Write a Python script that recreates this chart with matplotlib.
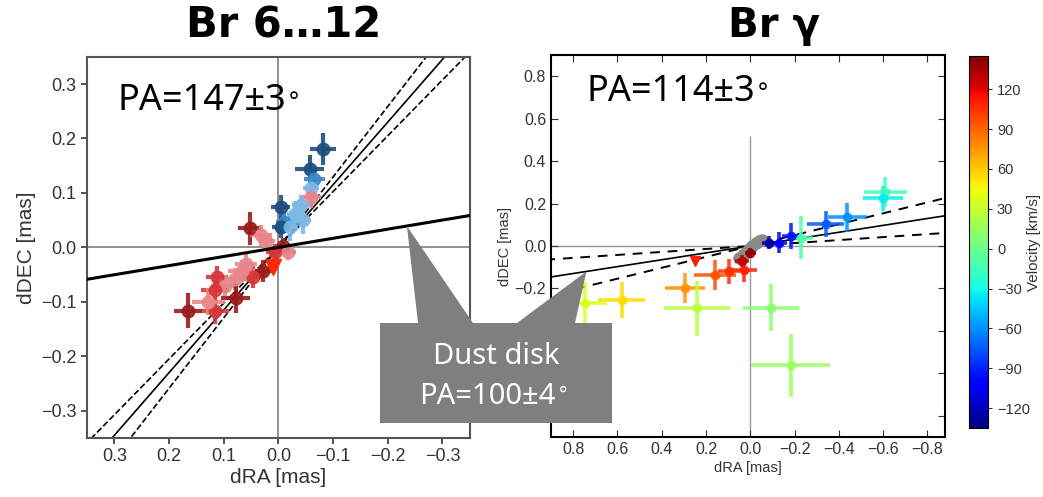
import numpy as np
import matplotlib
matplotlib.use("Agg")
import matplotlib.pyplot as plt
from matplotlib.patches import Polygon
from matplotlib.cm import ScalarMappable
from matplotlib.colors import Normalize

plt.rcParams["font.family"] = ["Liberation Sans", "DejaVu Sans"]

# ---- Br 6...12 (left): offsets in mas, colour class per point ----
left_dra = [-0.081, -0.057, -0.066, -0.060, -0.060, -0.042, -0.030, -0.004, -0.011, -0.004,
            -0.021, 0.052, 0.031, 0.022, -0.009, 0.007, -0.018, 0.028, 0.046, 0.067,
            0.113, 0.079, 0.098, 0.116, 0.078, 0.116, 0.165, 0.128, 0.060, -0.045]
left_ddec = [0.181, 0.144, 0.126, 0.110, 0.092, 0.077, 0.061, 0.074, 0.046, 0.037,
             0.037, 0.035, 0.022, 0.012, 0.003, -0.009, -0.009, -0.043, -0.055, -0.043,
             -0.055, -0.058, -0.070, -0.079, -0.093, -0.116, -0.116, -0.100, -0.030, 0.050]
left_xerr = [0.024, 0.027, 0.020, 0.015, 0.018, 0.018, 0.015, 0.018, 0.015, 0.015,
             0.015, 0.021, 0.020, 0.015, 0.015, 0.015, 0.015, 0.020, 0.020, 0.025,
             0.020, 0.025, 0.025, 0.025, 0.027, 0.025, 0.026, 0.030, 0.020, 0.015]
left_yerr = [0.030, 0.025, 0.020, 0.030, 0.020, 0.020, 0.025, 0.022, 0.020, 0.020,
             0.025, 0.030, 0.020, 0.015, 0.015, 0.015, 0.015, 0.020, 0.020, 0.020,
             0.020, 0.020, 0.020, 0.020, 0.028, 0.025, 0.032, 0.025, 0.020, 0.025]
left_class = [0, 0, 1, 2, 3, 2, 2, 0, 1, 0,
              2, 5, 3, 3, 5, 4, 3, 5, 4, 3,
              4, 3, 3, 4, 5, 4, 5, 3, 3, 2]
left_palette = ["#1d4e7c", "#3a86c8", "#7cb8e6", "#e8868a", "#d6373b", "#9a1c1c"]
left_wedge = (0.010, -0.036)

left_fit_pa, left_fit_err = 139.0, 3.3     # as drawn in the panel
disk_pa = 99.5

# ---- Br gamma (right): offsets in mas, velocity in km/s ----
right_dra = [-0.610, -0.600, -0.439, -0.341, -0.227, -0.182, -0.129, -0.084, -0.001, 0.037,
             0.030, 0.097, 0.158, 0.294, 0.241, 0.581, 0.747, -0.094, -0.182]
right_ddec = [0.255, 0.225, 0.135, 0.103, 0.040, 0.048, 0.016, 0.016, -0.032, -0.071,
              -0.111, -0.119, -0.135, -0.198, -0.294, -0.254, -0.270, -0.290, -0.563]
right_xerr = [0.098, 0.090, 0.090, 0.083, 0.057, 0.040, 0.035, 0.030, 0.025, 0.030,
              0.060, 0.050, 0.094, 0.090, 0.150, 0.106, 0.100, 0.128, 0.177]
right_yerr = [0.071, 0.060, 0.070, 0.060, 0.100, 0.060, 0.050, 0.030, 0.025, 0.030,
              0.060, 0.060, 0.070, 0.070, 0.130, 0.085, 0.100, 0.110, 0.150]
right_vel = [-15, -35, -60, -75, -10, -95, -105, -125, 140, 130,
             110, 105, 95, 75, 25, 55, 38, 10, 15]
right_wedge = (0.248, -0.071, 110)
right_gray_dra = [0.050, 0.035, 0.020, 0.005, -0.010, -0.025, -0.040, -0.055]
right_gray_ddec = [-0.055, -0.040, -0.026, -0.012, 0.000, 0.012, 0.022, 0.030]

right_fit_pa, right_fit_err = 99.2, 5.2   # as drawn in the panel

vel_min, vel_max = -135, 145
vel_ticks = [-120, -90, -60, -30, 0, 30, 60, 90, 120]

right_yticks = [-0.8, -0.6, -0.4, -0.2, 0.0, 0.2, 0.4, 0.6, 0.8]
# the lower three labels sit behind the callout box in the original
right_ylabels = ["", "", "", "−0.2", "0.0", "0.2", "0.4", "0.6", "0.8"]


def pa_line(ax, pa, lim, **kw):
    t = np.array([-lim, lim]) * 3
    r = np.radians(pa)
    ax.plot(t * np.sin(r), t * np.cos(r), **kw)


def pa_label(ax, x, y, s):
    big = ["Noto Sans", "DejaVu Sans"]
    t = ax.text(x, y, s, transform=ax.transAxes, fontsize=26, family=big,
                va="top", ha="left")
    ax.annotate("°", xy=(1, 0.45), xycoords=t, xytext=(2, 0), textcoords="offset points",
                fontsize=17, family=big, va="center", ha="left")


fig = plt.figure(figsize=(10.43, 4.97), dpi=100)

# ---------------- left panel ----------------
ax1 = fig.add_axes([0.0834, 0.1187, 0.367, 0.767])
ax1.axhline(0, color="#888888", lw=1.3, zorder=1)
ax1.axvline(0, color="#888888", lw=1.3, zorder=1)
pa_line(ax1, left_fit_pa, 0.35, color="k", lw=1.2, zorder=2)
for s in (-1, 1):
    pa_line(ax1, left_fit_pa + s * left_fit_err, 0.35, color="k", lw=1.2, ls="--", zorder=2)
pa_line(ax1, disk_pa, 0.35, color="k", lw=2.2, zorder=4)
for i in range(len(left_dra)):
    c = left_palette[left_class[i]]
    ax1.errorbar(left_dra[i], left_ddec[i], xerr=left_xerr[i], yerr=left_yerr[i],
                 fmt="o", ms=9, color=c, ecolor=c, elinewidth=3, capsize=0,
                 alpha=0.9, zorder=3)
ax1.plot(*left_wedge, marker="v", ms=11, color="#ff2a00", zorder=3)
ax1.set_xlim(0.35, -0.35)
ax1.set_ylim(-0.35, 0.35)
ax1.set_xticks([0.3, 0.2, 0.1, 0.0, -0.1, -0.2, -0.3])
ax1.set_yticks([-0.3, -0.2, -0.1, 0.0, 0.1, 0.2, 0.3])
ax1.tick_params(labelsize=13, colors="#333333", length=4, width=1.2, direction="out")
for sp in ax1.spines.values():
    sp.set_color("#555555")
    sp.set_linewidth(1.5)
ax1.set_xlabel("dRA [mas]", fontsize=15, color="#333333", labelpad=2)
ax1.set_ylabel("dDEC [mas]", fontsize=15, color="#333333", labelpad=4)
pa_label(ax1, 0.08, 0.93, "PA=147±3")

# ---------------- right panel ----------------
ax2 = fig.add_axes([0.5283, 0.1207, 0.3778, 0.7686])
cmap = plt.get_cmap("jet")
norm = Normalize(vel_min, vel_max)
ax2.axhline(0, color="#999999", lw=1.0, zorder=1)
ax2.vlines(0, -0.9, 0.52, color="#999999", lw=1.0, zorder=1)
pa_line(ax2, right_fit_pa, 0.9, color="k", lw=1.2, zorder=2)
for s in (-1, 1):
    pa_line(ax2, right_fit_pa + s * right_fit_err, 0.9, color="k", lw=1.4, ls=(0, (5, 4)), zorder=2)
ax2.plot(right_gray_dra, right_gray_ddec, "o", ms=8, color="#8a8a8a", zorder=3)
for i in range(len(right_dra)):
    c = cmap(norm(right_vel[i]))
    ax2.errorbar(right_dra[i], right_ddec[i], xerr=right_xerr[i], yerr=right_yerr[i],
                 fmt="o", ms=6, color=c, ecolor=c, elinewidth=2.6, capsize=0,
                 alpha=0.85, zorder=3)
ax2.plot(right_wedge[0], right_wedge[1], marker="v", ms=7,
         color=cmap(norm(right_wedge[2])), zorder=3)
ax2.set_xlim(0.9, -0.88)
ax2.set_ylim(-0.9, 0.9)
ax2.set_xticks([0.8, 0.6, 0.4, 0.2, 0.0, -0.2, -0.4, -0.6, -0.8])
ax2.set_yticks(right_yticks)
ax2.set_yticklabels(right_ylabels)
ax2.tick_params(labelsize=11.5, colors="#333333", direction="in", top=True, right=True,
                length=5, width=0.8)
for sp in ax2.spines.values():
    sp.set_color("k")
    sp.set_linewidth(1.5)
ax2.set_xlabel("dRA [mas]", fontsize=10.5, color="#333333", labelpad=3)
ax2.set_ylabel("dDEC [mas]", fontsize=10.5, color="#333333", labelpad=2)
pa_label(ax2, 0.09, 0.95, "PA=114±3")

# ---------------- colorbar ----------------
cax = fig.add_axes([0.929, 0.1388, 0.0182, 0.7485])
cb = fig.colorbar(ScalarMappable(norm=norm, cmap=cmap), cax=cax, ticks=vel_ticks)
cb.ax.tick_params(labelsize=10.5, colors="#333333", length=3)
cb.outline.set_linewidth(0.8)
cb.set_label("Velocity [km/s]", fontsize=11, color="#333333")
cb.ax.yaxis.set_label_coords(3.05, 0.5)

# ---------------- titles ----------------
fig.text(0.272, 0.925, "Br 6…12", fontsize=30, fontweight="bold",
         family="DejaVu Sans", ha="center", va="baseline")
fig.text(0.742, 0.925, "Br γ", fontsize=29, fontweight="bold",
         family="DejaVu Sans", ha="center", va="baseline")

# ---------------- callout ----------------
fig.canvas.draw()
to_fig = fig.transFigure.inverted()
r1 = np.radians(disk_pa)
tip1 = to_fig.transform(ax1.transData.transform((-0.235, -0.235 * np.cos(r1) / np.sin(r1))))
r2 = np.radians(right_fit_pa)
tip2 = to_fig.transform(ax2.transData.transform((0.74, 0.74 * np.cos(r2) / np.sin(r2))))
bx0, bx1, by0, by1 = 0.3643, 0.5868, 0.1489, 0.3501
callout = [(bx0, by0), (bx0, by1), (0.4008, by1), tuple(tip1), (0.4535, by1),
           (0.4957, by1), tuple(tip2), (0.5513, by1), (bx1, by1), (bx1, by0)]
fig.add_artist(Polygon(callout, closed=True, transform=fig.transFigure,
                       facecolor="#7f7f7f", edgecolor="none", zorder=10))
big = ["Noto Sans", "DejaVu Sans"]
fig.text((bx0 + bx1) / 2, 0.282, "Dust disk", color="white", fontsize=21,
         family=big, ha="center", va="center", zorder=11)
t = fig.text((bx0 + bx1) / 2 - 0.008, 0.203, "PA=100±4", color="white", fontsize=21,
             family=big, ha="center", va="center", zorder=11)
fig.add_artist(plt.Annotation("°", xy=(1, 0.5), xycoords=t, xytext=(2, 0),
                              textcoords="offset points", fontsize=14, family=big,
                              color="white", va="center", ha="left", zorder=11))

fig.savefig("out.png", dpi=100)
